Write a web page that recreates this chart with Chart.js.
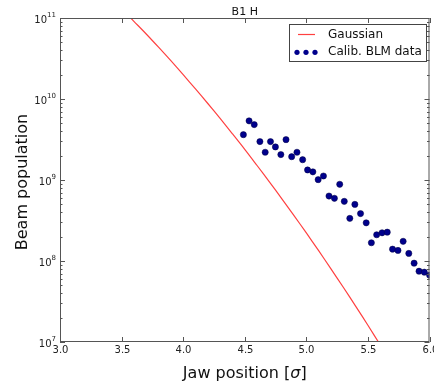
<!DOCTYPE html>
<html>
<head>
<meta charset="utf-8">
<script src="https://cdn.jsdelivr.net/npm/chart.js@4.4.0/dist/chart.umd.min.js"></script>
<style>
  html, body { margin: 0; padding: 0; background: #fff; }
  #wrap { width: 434px; height: 383px; }
</style>
</head>
<body>
<div id="wrap"><canvas id="beamChart"></canvas></div>
<script>
"use strict";

// --- Gaussian curve ---
const gaussX = [3.55, 3.6, 3.7, 3.8, 3.9, 4.0, 4.1, 4.2, 4.3, 4.4, 4.5, 4.6, 4.7, 4.8, 4.9, 5.0, 5.1, 5.2, 5.3, 5.4, 5.5, 5.6, 5.65];
const gaussY = [1.09e11, 9.1e10, 6.35e10, 4.36e10, 2.97e10, 2.0e10, 1.33e10, 8.8e9, 5.75e9, 3.72e9, 2.39e9, 1.51e9, 9.5e8, 5.9e8, 3.64e8, 2.22e8, 1.34e8, 8.0e7, 4.74e7, 2.77e7, 1.61e7, 9.2e6, 7.0e6];

// --- Calibrated BLM data points ---
const blmX = [4.489, 4.535, 4.577, 4.623, 4.666, 4.709, 4.749, 4.793, 4.835, 4.881, 4.924, 4.970,
              5.010, 5.053, 5.096, 5.139, 5.184, 5.228, 5.271, 5.308, 5.353, 5.394, 5.440, 5.486,
              5.528, 5.571, 5.615, 5.657, 5.700, 5.744, 5.786, 5.832, 5.875, 5.915, 5.958, 6.001];
const blmY = [3.63e9, 5.37e9, 4.83e9, 2.98e9, 2.20e9, 2.98e9, 2.56e9, 2.06e9, 3.15e9, 1.94e9, 2.20e9, 1.78e9,
              1.33e9, 1.26e9, 1.01e9, 1.12e9, 6.34e8, 5.94e8, 8.85e8, 5.45e8, 3.36e8, 5.0e8, 3.85e8, 2.96e8,
              1.68e8, 2.11e8, 2.23e8, 2.27e8, 1.40e8, 1.35e8, 1.75e8, 1.24e8, 9.4e7, 7.48e7, 7.28e7, 6.68e7];

// --- axes ---
const xTicks = [3.0, 3.5, 4.0, 4.5, 5.0, 5.5, 6.0];
const xTickLabels = ['3.0', '3.5', '4.0', '4.5', '5.0', '5.5', '6.0'];
const yExponents = [7, 8, 9, 10, 11];

const FONT = "'DejaVu Sans', sans-serif";
const LINE_RED = 'rgba(255, 0, 0, 0.75)';
const DOT_BLUE = '#00008c';

const matplotlibDecor = {
    id: 'matplotlibDecor',
    afterDraw(chart) {
        const { ctx, chartArea: a, scales: { x, y } } = chart;
        ctx.save();

        // frame
        ctx.strokeStyle = '#555';
        ctx.lineWidth = 1;
        ctx.strokeRect(a.left + 0.5, a.top + 0.5, a.right - a.left - 1, a.bottom - a.top - 1);

        // x ticks (inward, top and bottom) + labels
        ctx.fillStyle = '#222';
        ctx.font = `10px ${FONT}`;
        ctx.textAlign = 'center';
        ctx.textBaseline = 'top';
        xTicks.forEach((v, i) => {
            const px = Math.round(x.getPixelForValue(v)) + 0.5;
            ctx.beginPath();
            ctx.moveTo(px, a.bottom); ctx.lineTo(px, a.bottom - 5);
            ctx.moveTo(px, a.top); ctx.lineTo(px, a.top + 5);
            ctx.stroke();
            ctx.fillText(xTickLabels[i], px, a.bottom + 3);
        });

        // y ticks, log major + minor
        yExponents.forEach((e, i) => {
            const py = Math.round(y.getPixelForValue(Math.pow(10, e))) + 0.5;
            ctx.beginPath();
            ctx.moveTo(a.left, py); ctx.lineTo(a.left + 5, py);
            ctx.moveTo(a.right, py); ctx.lineTo(a.right - 5, py);
            ctx.stroke();
            if (i < yExponents.length - 1) {
                for (let m = 2; m <= 9; m++) {
                    const pm = Math.round(y.getPixelForValue(m * Math.pow(10, e))) + 0.5;
                    ctx.beginPath();
                    ctx.moveTo(a.left, pm); ctx.lineTo(a.left + 2.5, pm);
                    ctx.moveTo(a.right, pm); ctx.lineTo(a.right - 2.5, pm);
                    ctx.stroke();
                }
            }
            // label 10^e
            const sup = String(e);
            ctx.textAlign = 'left';
            ctx.textBaseline = 'alphabetic';
            ctx.font = `7px ${FONT}`;
            const wSup = ctx.measureText(sup).width;
            ctx.font = `10px ${FONT}`;
            const wBase = ctx.measureText('10').width;
            const xr = a.left - 4;
            ctx.fillText('10', xr - wSup - wBase, py + 4.5);
            ctx.font = `7px ${FONT}`;
            ctx.fillText(sup, xr - wSup, py - 1.5);
        });

        // title
        ctx.fillStyle = '#111';
        ctx.font = `11px ${FONT}`;
        ctx.textAlign = 'center';
        ctx.textBaseline = 'alphabetic';
        ctx.fillText('B1 H', (a.left + a.right) / 2, 15);

        // x axis title with italic sigma
        const p1 = 'Jaw position [', p3 = ']';
        ctx.font = `italic 16px ${FONT}`;
        const wSig = ctx.measureText('σ').width;
        ctx.font = `16px ${FONT}`;
        const w1 = ctx.measureText(p1).width, w3 = ctx.measureText(p3).width;
        const tx = (a.left + a.right) / 2 - (w1 + wSig + w3) / 2;
        ctx.textAlign = 'left';
        ctx.fillText(p1, tx, 378);
        ctx.font = `italic 16px ${FONT}`;
        ctx.fillText('σ', tx + w1, 378);
        ctx.font = `16px ${FONT}`;
        ctx.fillText(p3, tx + w1 + wSig, 378);

        // y axis title
        ctx.save();
        ctx.translate(26.5, 182);
        ctx.rotate(-Math.PI / 2);
        ctx.textAlign = 'center';
        ctx.fillText('Beam population', 0, 0);
        ctx.restore();

        // legend
        const lx = 289.5, ly = 24.5, lw = 137, lh = 37;
        ctx.fillStyle = '#fff';
        ctx.fillRect(lx, ly, lw, lh);
        ctx.strokeStyle = '#444';
        ctx.strokeRect(lx, ly, lw, lh);
        ctx.strokeStyle = LINE_RED;
        ctx.lineWidth = 1.2;
        ctx.beginPath();
        ctx.moveTo(298, 34.5); ctx.lineTo(315, 34.5);
        ctx.stroke();
        [297, 306, 315].forEach(dx => {
            ctx.beginPath();
            ctx.arc(dx, 52.3, 2.6, 0, Math.PI * 2);
            ctx.fillStyle = DOT_BLUE;
            ctx.fill();
        });
        ctx.fillStyle = '#111';
        ctx.font = `12px ${FONT}`;
        ctx.textBaseline = 'middle';
        ctx.fillText('Gaussian', 328, 34.5);
        ctx.fillText('Calib. BLM data', 328, 52.3);

        ctx.restore();
    }
};

new Chart(document.getElementById('beamChart'), {
    type: 'scatter',
    data: {
        datasets: [
            {
                label: 'Gaussian',
                type: 'line',
                data: gaussX.map((v, i) => ({ x: v, y: gaussY[i] })),
                borderColor: LINE_RED,
                borderWidth: 1.2,
                pointRadius: 0,
                fill: false,
                tension: 0.3
            },
            {
                label: 'Calib. BLM data',
                data: blmX.map((v, i) => ({ x: v, y: blmY[i] })),
                backgroundColor: DOT_BLUE,
                borderColor: '#000040',
                borderWidth: 0.5,
                pointRadius: 3.1
            }
        ]
    },
    options: {
        responsive: true,
        maintainAspectRatio: false,
        animation: false,
        layout: { padding: { top: 18, right: 1.5, left: 0, bottom: 0 } },
        plugins: {
            legend: { display: false },
            title: { display: false },
            tooltip: { enabled: false }
        },
        scales: {
            x: {
                type: 'linear', min: 3, max: 6,
                grid: { display: false }, border: { display: false },
                ticks: { display: false },
                afterFit: s => { s.height = 41; }
            },
            y: {
                type: 'logarithmic', min: 1e7, max: 1e11,
                grid: { display: false }, border: { display: false },
                ticks: { display: false },
                afterFit: s => { s.width = 60; }
            }
        }
    },
    plugins: [matplotlibDecor]
});
</script>
</body>
</html>
